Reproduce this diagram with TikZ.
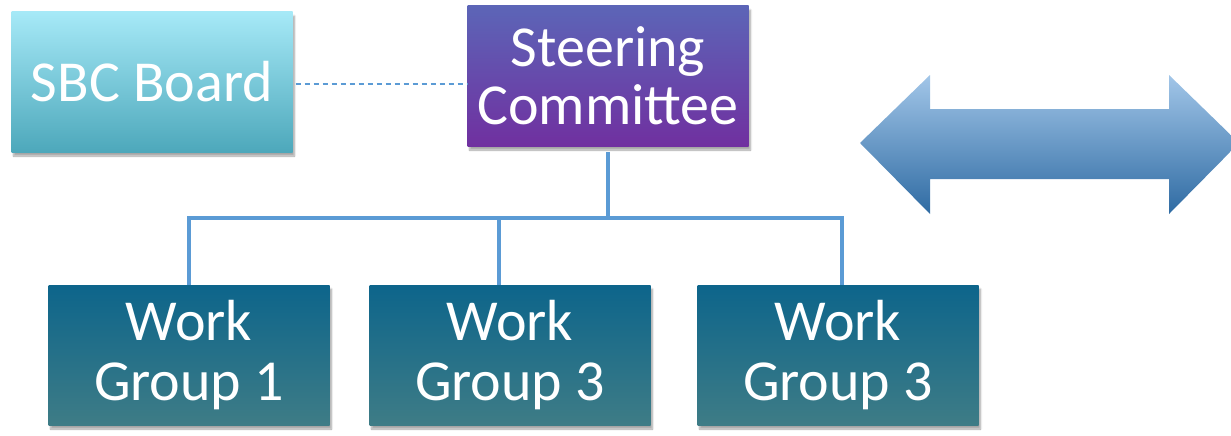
\documentclass[tikz,border=0pt]{standalone}
\usepackage{fontspec}
\setmainfont{Carlito}
\usetikzlibrary{shadows.blur}
\definecolor{lineblue}{HTML}{5B9BD5}
\definecolor{sbctop}{HTML}{A6E9F7}
\definecolor{sbcbot}{HTML}{4DA8BB}
\definecolor{sctop}{HTML}{5C65B7}
\definecolor{scbot}{HTML}{7030A0}
\definecolor{wgtop}{HTML}{0D658B}
\definecolor{wgbot}{HTML}{3E7C86}
\definecolor{arrtop}{HTML}{A2C6E8}
\definecolor{arrbot}{HTML}{2F6BA3}
\begin{document}
\begin{tikzpicture}[x=1pt,y=-1pt,
  orgbox/.style={minimum width=281pt, minimum height=140pt, inner sep=0pt,
    text=white, align=center, font=\fontsize{58}{58}\selectfont,
    blur shadow={shadow xshift=2pt, shadow yshift=-4pt, shadow blur steps=5, shadow opacity=35}},
  sbcbox/.style={orgbox, top color=sbctop, bottom color=sbcbot},
  scbox/.style={orgbox, top color=sctop, bottom color=scbot},
  wgbox/.style={orgbox, top color=wgtop, bottom color=wgbot, font=\fontsize{58}{60}\selectfont},
  tree/.style={draw=lineblue, line width=4.2pt},
  dashline/.style={draw=lineblue, line width=1.6pt, dash pattern=on 5pt off 4pt}]
\useasboundingbox (0,0) rectangle (1231,436);
\clip (0,0) rectangle (1231,436);
\node[sbcbox] (sbc) at (152,82) {SBC Board};
\node[scbox] (sc) at (608,76) {Steering\\Committee};
\node[wgbox] (wg1) at (189,355) {Work\\Group 1};
\node[wgbox] (wg2) at (510,355) {Work\\Group 3};
\node[wgbox] (wg3) at (838,355) {Work\\Group 3};
\coordinate (bar) at (0,218);
\coordinate (b1) at (189,218);
\coordinate (b2) at (499,218);
\coordinate (b3) at (842,218);
\draw[dashline, shorten <=3pt] (sbc.east |- 0,84) -- (sc.west |- 0,84);
\draw[tree] ([yshift=-6pt]sc.south) -- (sc.south |- bar);
\draw[tree, line cap=rect] (b1) -- (b3);
\draw[tree] (b1) -- (b1 |- wg1.north);
\draw[tree] (b2) -- (b2 |- wg2.north);
\draw[tree] (b3) -- (b3 |- wg3.north);
\shade[top color=arrtop, bottom color=arrbot]
  (860,143) -- (930,75) -- (930,109) -- (1169,109) -- (1169,75) -- (1239,143)
  -- (1169,214) -- (1169,179) -- (930,179) -- (930,214) -- cycle;
\end{tikzpicture}
\end{document}
